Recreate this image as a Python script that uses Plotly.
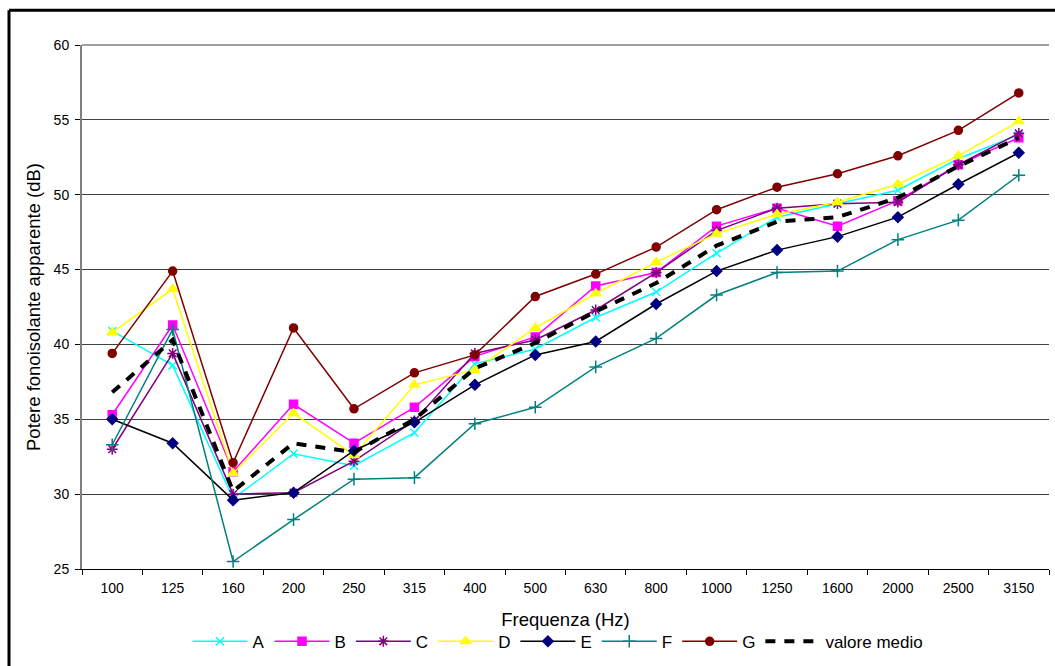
import plotly.graph_objects as go

freqs = ["100", "125", "160", "200", "250", "315", "400", "500", "630", "800",
         "1000", "1250", "1600", "2000", "2500", "3150"]

A = [40.9, 38.6, 29.7, 32.7, 31.9, 34.1, 38.7, 39.7, 41.8, 43.5, 46.1, 48.5, 49.4, 50.3, 52.4, 54.0]
B = [35.3, 41.3, 31.5, 36.0, 33.4, 35.8, 39.2, 40.5, 43.9, 44.8, 47.9, 49.1, 47.9, 49.6, 52.0, 53.8]
C = [33.0, 39.4, 30.0, 30.1, 32.2, 34.9, 39.4, 40.3, 42.3, 44.8, 47.6, 49.1, 49.4, 49.5, 52.0, 54.1]
D = [40.8, 43.7, 31.4, 35.4, 32.6, 37.3, 38.3, 41.1, 43.4, 45.5, 47.4, 48.7, 49.5, 50.7, 52.6, 54.9]
E = [35.0, 33.4, 29.6, 30.1, 32.9, 34.8, 37.3, 39.3, 40.2, 42.7, 44.9, 46.3, 47.2, 48.5, 50.7, 52.8]
F = [33.3, 41.0, 25.5, 28.3, 31.0, 31.1, 34.7, 35.8, 38.5, 40.4, 43.3, 44.8, 44.9, 47.0, 48.3, 51.3]
G = [39.4, 44.9, 32.1, 41.1, 35.7, 38.1, 39.3, 43.2, 44.7, 46.5, 49.0, 50.5, 51.4, 52.6, 54.3, 56.8]
MEDIO = [36.8, 40.3, 30.2, 33.4, 32.8, 35.0, 38.4, 40.1, 42.2, 44.1, 46.6, 48.2, 48.5, 49.8, 51.9, 53.8]

series = [
    ("A", A, "#00FFFF", "#00FFFF", "x-thin-open", 8),
    ("B", B, "#FF00FF", "#FF00FF", "square", 8),
    ("C", C, "#800080", "#800080", "asterisk-open", 9),
    ("D", D, "#FFFF00", "#FFFF00", "triangle-up", 9),
    ("E", E, "#000000", "#000080", "diamond", 8),
    ("F", F, "#008080", "#008080", "cross-thin-open", 9),
    ("G", G, "#800000", "#800000", "circle", 8),
]

fig = go.Figure()
for name, vals, lc, mc, sym, sz in series:
    fig.add_trace(go.Scatter(
        x=freqs, y=vals, name=name, mode="lines+markers",
        line=dict(color=lc, width=1.5),
        marker=dict(symbol=sym, size=sz, color=mc, line=dict(color=mc, width=1.5)),
    ))
fig.add_trace(go.Scatter(
    x=freqs, y=MEDIO, name="valore medio", mode="lines",
    line=dict(color="#000000", width=4, dash="10px,9px"),
))

L, R, T, B_ = 82, 6, 45, 95
W, H = 1055, 666
pw, ph = W - L - R, H - T - B_
bx = (9 - L) / pw
by = 1 + (T - 10) / ph

fig.update_layout(
    width=W, height=H,
    margin=dict(l=L, r=R, t=T, b=B_),
    paper_bgcolor="white", plot_bgcolor="white",
    font=dict(family="Liberation Sans, Arial, sans-serif", color="#000000", size=14),
    showlegend=True,
    legend=dict(orientation="h", x=(558 - L) / pw, xanchor="center",
                y=(T + ph - 644) / ph, yanchor="middle",
                font=dict(size=17), itemwidth=55, tracegroupgap=0),
    xaxis=dict(
        type="category", showgrid=False, showline=True, linecolor="#000000", linewidth=1,
        ticks="outside", tickson="boundaries", ticklen=5, tickcolor="#000000",
        tickfont=dict(size=14), range=[-0.5, 15.5], ticklabelstandoff=6,
        title=dict(text="Frequenza (Hz)", font=dict(size=18.5), standoff=18),
    ),
    yaxis=dict(
        range=[25, 60], dtick=5, showgrid=True, gridcolor="#404040", gridwidth=1,
        showline=True, linecolor="#808080", linewidth=2, ticks="outside", ticklen=5,
        tickcolor="#000000", tickfont=dict(size=14), zeroline=False, ticklabelstandoff=3,
        title=dict(text="Potere fonoisolante apparente (dB)", font=dict(size=18.5), standoff=8),
    ),
    shapes=[
        dict(type="line", xref="paper", yref="paper", x0=bx, x1=bx, y0=-1, y1=by,
             line=dict(color="black", width=3)),
        dict(type="line", xref="paper", yref="paper", x0=bx, x1=1.1, y0=by, y1=by,
             line=dict(color="black", width=3)),
        dict(type="line", xref="paper", yref="paper", x0=0, x1=1, y0=1, y1=1,
             line=dict(color="#404040", width=1), layer="below"),
    ],
)

fig.write_html("out.html")
